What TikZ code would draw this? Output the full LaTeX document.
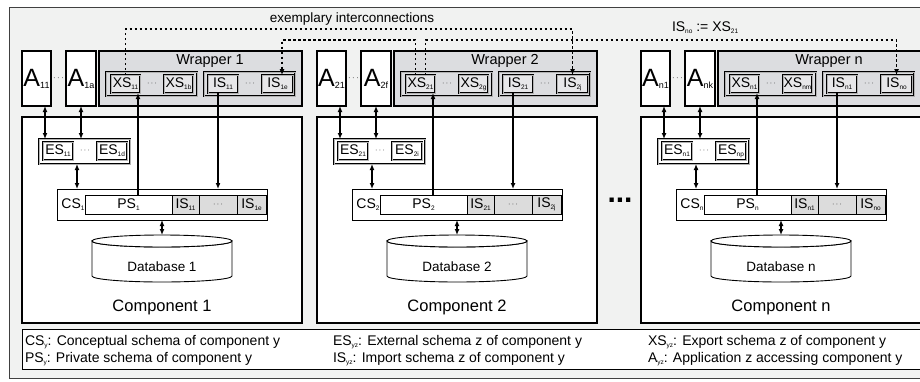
\documentclass[tikz,border=0pt]{standalone}
\usepackage{fontspec}
\setmainfont{Liberation Sans}
\usetikzlibrary{arrows.meta}

\definecolor{paper}{HTML}{F1F2F1}
\definecolor{wrapgray}{HTML}{DCDDE0}
\definecolor{boxgray}{HTML}{E7E7E9}
\definecolor{cellgray}{HTML}{DCDCDC}

% small lowered index
\newcommand{\lo}[2][6.5]{\raisebox{-2pt}{\fontsize{#1}{#1}\selectfont #2}}

\begin{document}
\begin{tikzpicture}[
        x=1pt, y=-1pt,
        font=\fontsize{14}{16}\selectfont,
        >={Latex[length=6pt,width=5pt]},
        every node/.style={inner sep=0pt, outer sep=0pt},
        appbox/.style={
            rectangle,
            draw,
            line width=2.4pt,
            fill=white,
            minimum width=29pt,
            minimum height=55pt,
            font=\fontsize{25}{27}\selectfont
        },
        wrapbox/.style={
            rectangle,
            draw,
            line width=2.4pt,
            fill=wrapgray,
            minimum width=203pt,
            minimum height=55pt
        },
        compbox/.style={
            rectangle,
            draw,
            line width=2.4pt,
            fill=white,
            minimum width=280pt,
            minimum height=206pt
        },
        grpbox/.style={
            rectangle,
            draw,
            line width=0.5pt,
            double=gray!60,
            double distance=0.8pt,
            minimum width=91pt,
            minimum height=24pt
        },
        schema/.style={
            rectangle,
            draw,
            line width=0.5pt,
            double=gray!60,
            double distance=0.6pt,
            minimum width=29pt,
            minimum height=18pt
        },
        cell/.style={
            rectangle,
            draw,
            line width=0.8pt,
            minimum height=19pt
        },
        dbase/.style={
            rectangle,
            minimum width=140pt,
            minimum height=47pt
        },
        dbline/.style={draw, line width=0.9pt, fill=white},
        dots/.style={font=\fontsize{8}{8}\selectfont},
        lgd/.style={anchor=west},
        conn/.style={line width=1.2pt},
        link/.style={line width=1.1pt, dash pattern=on 2.5pt off 2.5pt}
    ]

    \useasboundingbox (0,0) rectangle (920,381);

    % Frame and legend
    \node[draw=black!75, line width=1pt, fill=paper, anchor=north west,
          minimum width=940pt, minimum height=371pt] (frame) at (9,7) {};
    \node[draw, line width=1pt, fill=white, anchor=north west,
          minimum width=910pt, minimum height=40pt] (legend) at (22,329) {};

    \node[lgd] (lcs) at (25,342) {CS\lo{y}: Conceptual schema of component y};
    \node[lgd] (lps) at (25,359) {PS\lo{y}: Private schema of component y};
    \node[lgd] (les) at (333,342) {ES\lo{yz}: External schema z of component y};
    \node[lgd] (lis) at (333,359) {IS\lo{yz}: Import schema z of component y};
    \node[lgd] (lxs) at (648,342) {XS\lo{yz}: Export schema z of component y};
    \node[lgd] (lap) at (648,359) {A\lo{yz}: Application z accessing component y};

    % ---------- Components ----------
    \foreach \k/\ox/\ma/\mb/\me/\md in {1/22/a/b/e/d, 2/317/f/g/j/i, n/641/k/m/o/p}{
    \begin{scope}[xshift=\ox]
        \node[compbox] (comp\k) at (140,220) {};
        \node[font=\fontsize{16.5}{18}\selectfont] (ctitle\k) at (140,307) {Component \k};

        % applications and wrapper
        \node[appbox] (a1\k) at (14.5,78.5) {A\lo[9]{\k1}};
        \node[dots, font=\fontsize{9}{9}\selectfont] (adots\k) at (36.5,78) {$\cdots$};
        \node[appbox, minimum width=30pt] (a2\k) at (59,78.5) {A\lo[9]{\k\ma}};
        \node[wrapbox] (wrap\k) at (178.5,78.5) {};
        \node[font=\fontsize{14.5}{16}\selectfont] (wtitle\k) at (188,61) {Wrapper \k};

        \node[grpbox, fill=wrapgray] (xsg\k) at (129.5,84) {};
        \node[schema, fill=boxgray] (xsa\k) at (103.5,84) {XS\lo{\k1}};
        \node[dots] (xsdots\k) at (130,84) {$\cdots$};
        \node[schema, fill=boxgray] (xsb\k) at (156.5,84) {XS\lo{\k\mb}};

        \node[grpbox, fill=wrapgray] (isg\k) at (227.5,84) {};
        \node[schema, fill=boxgray, minimum width=30pt] (isa\k) at (201,84) {IS\lo{\k1}};
        \node[dots] (isdots\k) at (228,84) {$\cdots$};
        \node[schema, fill=boxgray, minimum width=31pt] (isb\k) at (255.5,84) {IS\lo{\k\me}};

        % external schemas
        \node[grpbox, fill=white, minimum height=25pt] (esg\k) at (62.5,151.5) {};
        \node[schema, fill=white, minimum width=30pt] (esa\k) at (36,151) {ES\lo{\k1}};
        \node[dots] (esdots\k) at (63,151) {$\cdots$};
        \node[schema, fill=white, minimum width=30pt] (esb\k) at (90,151) {ES\lo{\k\md}};

        % conceptual schema
        \node[draw, line width=1pt, fill=white, minimum width=210pt, minimum height=31pt] (cs\k) at (140,204.5) {};
        \node (csl\k) at (51,205) {CS\lo{\k}};
        \node[cell, fill=white, minimum width=87pt] (ps\k) at (106.5,204.5) {PS\lo{\k}};
        \node[cell, fill=cellgray, minimum width=27pt] (cisa\k) at (163.5,204.5) {IS\lo{\k1}};
        \node[cell, fill=cellgray, minimum width=38pt, dots] (cdots\k) at (196,204.5) {$\cdots$};
        \node[cell, fill=cellgray, minimum width=29pt] (cisb\k) at (229.5,204.5) {IS\lo{\k\me}};

        % database
        \node[dbase] (db\k) at (140,258.5) {};
        \draw[dbline] (db\k.north west) ++(0,6) -- ++(0,35)
            arc[start angle=180, end angle=0, x radius=70, y radius=6] -- ++(0,-35)
            arc[start angle=0, end angle=180, x radius=70, y radius=6] -- cycle;
        \draw[dbline] (db\k.north) ++(0,6) ellipse[x radius=70, y radius=6];
        \node[font=\fontsize{13.5}{15}\selectfont] (dbl\k) at (140,267) {Database \k};

        \draw[conn, <->] ([xshift=8.5]a1\k.south) -- ([xshift=8.5]a1\k.south |- esg\k.north);
        \draw[conn, <->] (a2\k.south) -- (a2\k.south |- esg\k.north);
        \draw[conn, <->] ([xshift=-7.5]esg\k.south) -- ([xshift=-7.5]esg\k.south |- cs\k.north);
        \draw[conn, <->] (cs\k.south) -- (db\k.north);
        \draw[conn, ->] ([xshift=12.5]xsa\k.south |- ps\k.north) -- ([xshift=12.5]xsa\k.south);
        \draw[conn, ->] ([xshift=-5]isa\k.south) -- ([xshift=-5]isa\k.south |- cs\k.north);
    \end{scope}
    }

    \node[font=\fontsize{30}{30}\selectfont\bfseries, anchor=base] (more) at (620,202) {...};

    % exemplary interconnections
    \coordinate (lane1) at (0,29);
    \coordinate (lane2) at (0,40);
    \node[font=\fontsize{13.5}{15}\selectfont] (exlbl) at (352,19) {exemplary interconnections};
    \node[anchor=west] (eqlbl) at (672,28) {IS\lo{no} := XS\lo{21}};

    \draw[link, ->] (xsa1.north) -- (xsa1.north |- lane1) -| (isb2.north);
    \draw[link, ->] ([xshift=-5]xsa2.north) -- ([xshift=-5]xsa2.north |- lane2) -| ([xshift=4.5]isb1.north);
    \draw[link, ->] ([xshift=5]xsa2.north) -- ([xshift=5]xsa2.north |- lane2) -| (isbn.north);

\end{tikzpicture}
\end{document}
